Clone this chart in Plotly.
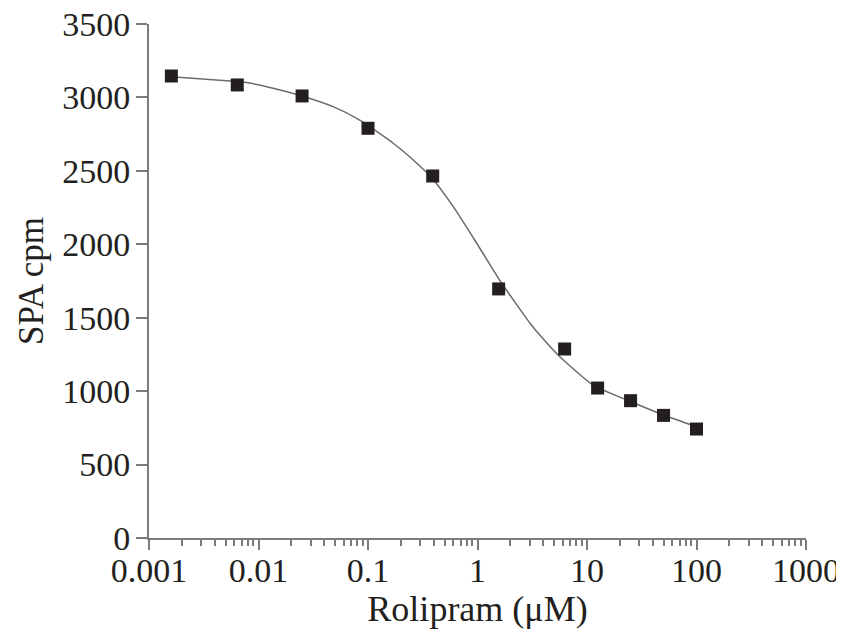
import plotly.graph_objects as go

# Measured data points (Rolipram concentration in µM vs SPA cpm)
conc_um = [0.0016, 0.0064, 0.025, 0.1, 0.39, 1.56, 6.25, 12.5, 25, 50, 100]
spa_cpm = [3146, 3085, 3010, 2790, 2465, 1696, 1287, 1021, 935, 835, 742]

# Fitted curve
fit_x = [0.0016, 0.0055, 0.0078, 0.0136, 0.025, 0.048, 0.084, 0.17, 0.259, 0.39,
         0.601, 0.984, 1.61, 3.02, 3.72, 5.68, 11.4, 23.1, 50, 100]
fit_y = [3140, 3112, 3101, 3063, 3010, 2937, 2846, 2688, 2574, 2445,
         2256, 2007, 1750, 1462, 1380, 1232, 1040, 940, 838, 758]

x_tickvals = [0.001, 0.01, 0.1, 1, 10, 100, 1000]
x_ticktext = ["0.001", "0.01", "0.1", "1", "10", "100", "1000"]
y_tickvals = [0, 500, 1000, 1500, 2000, 2500, 3000, 3500]

FONT = "Liberation Serif, Times New Roman, serif"
FS = 34
TXT = "#231f20"
AX = "#7a7a7a"

fig = go.Figure()
fig.add_trace(go.Scatter(
    x=fit_x, y=fit_y, mode="lines",
    line=dict(color="#6b6b6b", width=1.5, shape="spline", smoothing=0.5),
    hoverinfo="skip", showlegend=False))
fig.add_trace(go.Scatter(
    x=conc_um, y=spa_cpm, mode="markers",
    marker=dict(symbol="square", size=13, color="#231f20", line=dict(width=0)),
    showlegend=False))

fig.update_layout(
    width=836, height=627,
    margin=dict(l=141, r=38, t=16, b=97),
    paper_bgcolor="white", plot_bgcolor="white",
    font=dict(family=FONT, size=FS, color=TXT),
)
fig.update_xaxes(
    type="log", range=[-3, 3], automargin=False,
    tickvals=x_tickvals, ticktext=x_ticktext,
    showgrid=False, zeroline=False,
    showline=True, linecolor=AX, linewidth=2,
    ticks="outside", ticklen=10, tickwidth=2, tickcolor=AX,
    tickfont=dict(family=FONT, size=FS, color=TXT),
    ticklabelstandoff=-9, ticklabeloverflow="allow",
    minor=dict(ticks="outside", ticklen=6, tickwidth=1.5, tickcolor=AX,
               dtick="D1", showgrid=False),
    title=dict(text="Rolipram (μM)", font=dict(family=FONT, size=36, color=TXT),
               standoff=6),
)
fig.update_yaxes(
    range=[0, 3500], tickvals=y_tickvals, automargin=False,
    showgrid=False, zeroline=False,
    showline=True, linecolor=AX, linewidth=2,
    ticks="outside", ticklen=11, tickwidth=2, tickcolor=AX,
    tickfont=dict(family=FONT, size=FS, color=TXT),
    ticklabelstandoff=-1, ticklabeloverflow="allow",
    title=dict(text="SPA cpm", font=dict(family=FONT, size=35, color=TXT),
               standoff=8),
)

fig.write_html("out.html")
